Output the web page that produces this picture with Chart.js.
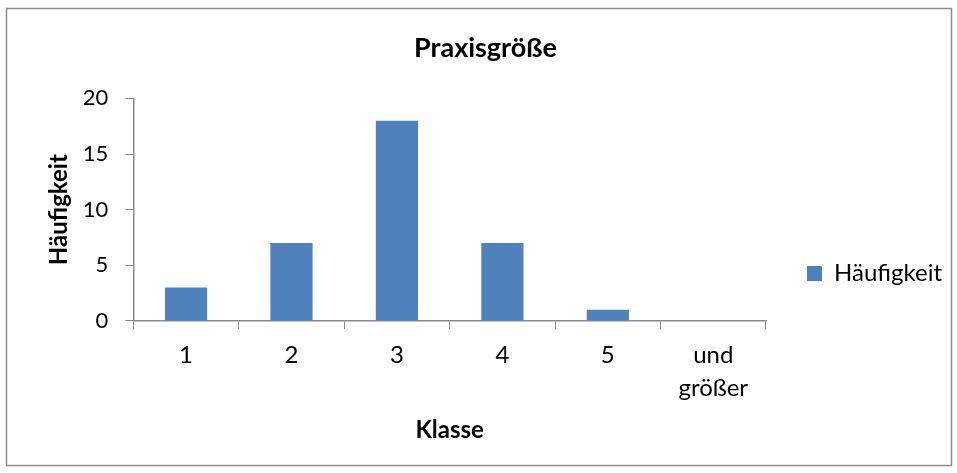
<!DOCTYPE html>
<html>
<head>
<meta charset="utf-8">
<script src="https://cdn.jsdelivr.net/npm/chart.js@4"></script>
<style>
	body { margin: 0; background: #fff; }
	#wrap { width: 957px; height: 473px; }
</style>
</head>
<body>
<div id="wrap"><canvas id="chart"></canvas></div>
<script>
var klassen = ['1', '2', '3', '4', '5', ['und', 'größer']];
var haeufigkeit = [3, 7, 18, 7, 1, 0];
var yTicks = [0, 5, 10, 15, 20];

var FONT = 'Lato, Carlito, "Open Sans", sans-serif';

/* grey frame round the whole chart */
var framePlugin = {
	id: 'frame',
	beforeDraw: function (chart) {
		var ctx = chart.ctx;
		ctx.save();
		ctx.fillStyle = '#fff';
		ctx.fillRect(0, 0, chart.width, chart.height);
		ctx.strokeStyle = '#8c8c8c';
		ctx.lineWidth = 1.5;
		ctx.strokeRect(6.5, 8.5, 945, 457);
		ctx.restore();
	}
};

/* legend gets a fixed width so the plot stops where Excel stops it,
   title is centred over the whole frame rather than the free space */
var layoutFixPlugin = {
	id: 'layoutFix',
	afterInit: function (chart) {
		var lg = chart.legend;
		if (!lg || lg._fixedWidth) return;
		var fit = lg.fit;
		lg.fit = function () {
			fit.call(this);
			this.width = 184;
		};
		lg._fixedWidth = true;
	},
	afterLayout: function (chart) {
		var t = chart.titleBlock;
		if (t) {
			t.left -= 12;
			t.right -= 12;
		}
	}
};

var ctx = document.getElementById('chart').getContext('2d');
new Chart(ctx, {
	type: 'bar',
	data: {
		labels: klassen,
		datasets: [{
			label: 'Häufigkeit',
			data: haeufigkeit,
			backgroundColor: '#4f81bd',
			categoryPercentage: 1,
			barPercentage: 0.4
		}]
	},
	options: {
		responsive: true,
		maintainAspectRatio: false,
		animation: false,
		layout: {
			padding: { left: 45, right: 7, top: 32, bottom: 28 }
		},
		plugins: {
			title: {
				display: true,
				text: 'Praxisgröße',
				color: '#000',
				font: { family: FONT, size: 27, weight: 'bold' },
				padding: { top: 0, bottom: 34 }
			},
			legend: {
				position: 'right',
				title: {
					display: true,
					text: '',
					font: { family: FONT, size: 10 },
					padding: { top: 58, bottom: 0 }
				},
				labels: {
					color: '#000',
					font: { family: FONT, size: 24 },
					boxWidth: 15,
					boxHeight: 15,
					padding: 41
				}
			},
			tooltip: { enabled: false }
		},
		scales: {
			x: {
				grid: {
					display: true,
					drawOnChartArea: false,
					color: '#888',
					tickLength: 8,
					offset: true
				},
				border: { color: '#888', width: 1.5 },
				ticks: {
					color: '#000',
					font: { family: FONT, size: 24, lineHeight: 1.36 },
					padding: 10,
					maxRotation: 0
				},
				title: {
					display: true,
					text: 'Klasse',
					color: '#000',
					font: { family: FONT, size: 24, weight: 'bold' },
					padding: { top: 2, bottom: 0 }
				}
			},
			y: {
				min: 0,
				max: 20,
				afterBuildTicks: function (axis) {
					axis.ticks = yTicks.map(function (v) { return { value: v }; });
				},
				grid: {
					display: true,
					drawOnChartArea: false,
					color: '#888',
					tickLength: 8
				},
				border: { color: '#888', width: 1.5 },
				ticks: {
					stepSize: 5,
					color: '#000',
					font: { family: FONT, size: 22 },
					padding: 17
				},
				title: {
					display: true,
					text: 'Häufigkeit',
					color: '#000',
					font: { family: FONT, size: 24, weight: 'bold' },
					padding: { top: 0, bottom: -8 }
				}
			}
		}
	},
	plugins: [framePlugin, layoutFixPlugin]
});
</script>
</body>
</html>
